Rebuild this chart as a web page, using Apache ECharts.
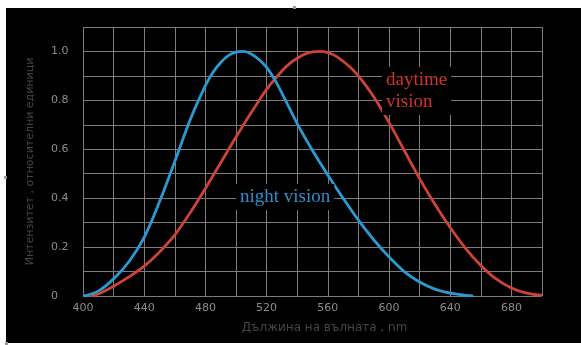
<!DOCTYPE html>
<html>
<head>
<meta charset="utf-8">
<script src="https://cdn.jsdelivr.net/npm/echarts@6/dist/echarts.min.js"></script>
<style>
  html, body { margin: 0; padding: 0; background: #ffffff; width: 581px; height: 345px; overflow: hidden; }
  #chart { position: absolute; left: 6px; top: 8px; width: 575px; height: 335px; background: #000000; }
  .mark { position: absolute; width: 3px; height: 3px; background: #9a9a9a; }
</style>
</head>
<body>
<div id="chart"></div>
<div class="mark" style="left:293px; top:6px;"></div>
<div class="mark" style="left:4px; top:176px;"></div>
<div class="mark" style="left:5px; top:342px;"></div>
<script>
// Wavelengths (nm) and relative sensitivity — night (scotopic) vision
const nightWavelengths = [400, 410, 420, 430, 440, 450, 460, 470, 480, 485, 490, 495, 500, 505, 510, 515, 520, 525, 530, 540, 550, 560, 570, 580, 590, 600, 610, 620, 630, 640, 650, 655];
const nightValues      = [0.0, 0.02, 0.07, 0.14, 0.24, 0.385, 0.55, 0.72, 0.86, 0.915, 0.955, 0.983, 0.997, 1.0, 0.99, 0.967, 0.935, 0.888, 0.83, 0.705, 0.595, 0.495, 0.40, 0.31, 0.23, 0.16, 0.10, 0.057, 0.028, 0.012, 0.003, 0.0];

// Daytime (photopic) vision
const dayWavelengths = [405, 410, 420, 430, 440, 450, 460, 470, 480, 490, 500, 510, 520, 530, 535, 540, 545, 550, 555, 560, 565, 570, 575, 580, 590, 600, 610, 620, 630, 640, 650, 660, 670, 680, 690, 700];
const dayValues      = [0.0, 0.008, 0.04, 0.078, 0.122, 0.18, 0.25, 0.34, 0.44, 0.545, 0.65, 0.75, 0.845, 0.92, 0.95, 0.972, 0.989, 0.998, 1.0, 0.995, 0.982, 0.96, 0.933, 0.90, 0.815, 0.71, 0.595, 0.48, 0.375, 0.28, 0.195, 0.125, 0.07, 0.033, 0.012, 0.003];

const xTickLabels = ['400', '440', '480', '520', '560', '600', '640', '680'];
const yTickLabels = ['0', '0.2', '0.4', '0.6', '0.8', '1.0'];

const xName = 'Дължина на вълната , nm';
const yName = 'Интензитет , относителни единици';
const nightLabel = 'night vision';
const dayLabel = 'daytime\nvision';

const blue = '#2b9ad3';
const red = '#cf4236';

const chart = echarts.init(document.getElementById('chart'), null, { renderer: 'canvas' });

function pairs(xs, ys) { return xs.map((x, i) => [x, ys[i]]); }

chart.setOption({
  backgroundColor: '#000000',
  animation: false,
  grid: { left: 77, right: 39, top: 19, bottom: 47 },
  title: [
    {
      text: dayLabel, left: 376, top: 59,
      backgroundColor: '#000000', padding: [2, 4],
      textStyle: { color: '#d0352c', fontFamily: 'Liberation Serif', fontSize: 19, fontWeight: 'normal', lineHeight: 22 }
    },
    {
      text: nightLabel, left: 230, top: 176,
      backgroundColor: '#000000', padding: [2, 4],
      textStyle: { color: '#2d8fca', fontFamily: 'Liberation Serif', fontSize: 19, fontWeight: 'normal', lineHeight: 22 }
    }
  ],
  xAxis: {
    type: 'value', min: 400, max: 700, interval: 20,
    name: xName, nameLocation: 'middle', nameGap: 26,
    nameTextStyle: { color: '#454545', fontFamily: 'DejaVu Sans', fontSize: 12, padding: [0, 0, 0, 24] },
    axisLine: { show: false }, axisTick: { show: false },
    axisLabel: {
      color: '#8c8c8c', fontFamily: 'DejaVu Sans', fontSize: 11, margin: 7,
      formatter: v => xTickLabels.includes(String(v)) ? String(v) : ''
    },
    splitLine: { show: true, lineStyle: { color: '#7c7c7c', width: 1 } }
  },
  yAxis: {
    type: 'value', min: 0, max: 1.1, interval: 0.1,
    name: yName, nameLocation: 'middle', nameGap: 47,
    nameTextStyle: { color: '#454545', fontFamily: 'DejaVu Sans', fontSize: 11 },
    axisLine: { show: false }, axisTick: { show: false },
    axisLabel: {
      color: '#8c8c8c', fontFamily: 'DejaVu Sans', fontSize: 11, margin: 32, align: 'left',
      formatter: v => {
        const r = Math.round(v * 10);
        if (r % 2 !== 0 || r > 10) return '';
        return yTickLabels[r / 2];
      }
    },
    splitLine: { show: true, lineStyle: { color: '#7c7c7c', width: 1 } }
  },
  series: [
    {
      name: 'night vision', type: 'line', data: pairs(nightWavelengths, nightValues),
      smooth: 0.35, showSymbol: false, lineStyle: { color: blue, width: 2.8 }, z: 3
    },
    {
      name: 'daytime vision', type: 'line', data: pairs(dayWavelengths, dayValues),
      smooth: 0.35, showSymbol: false, lineStyle: { color: red, width: 2.8 }, z: 2
    }
  ]
});
</script>
</body>
</html>
